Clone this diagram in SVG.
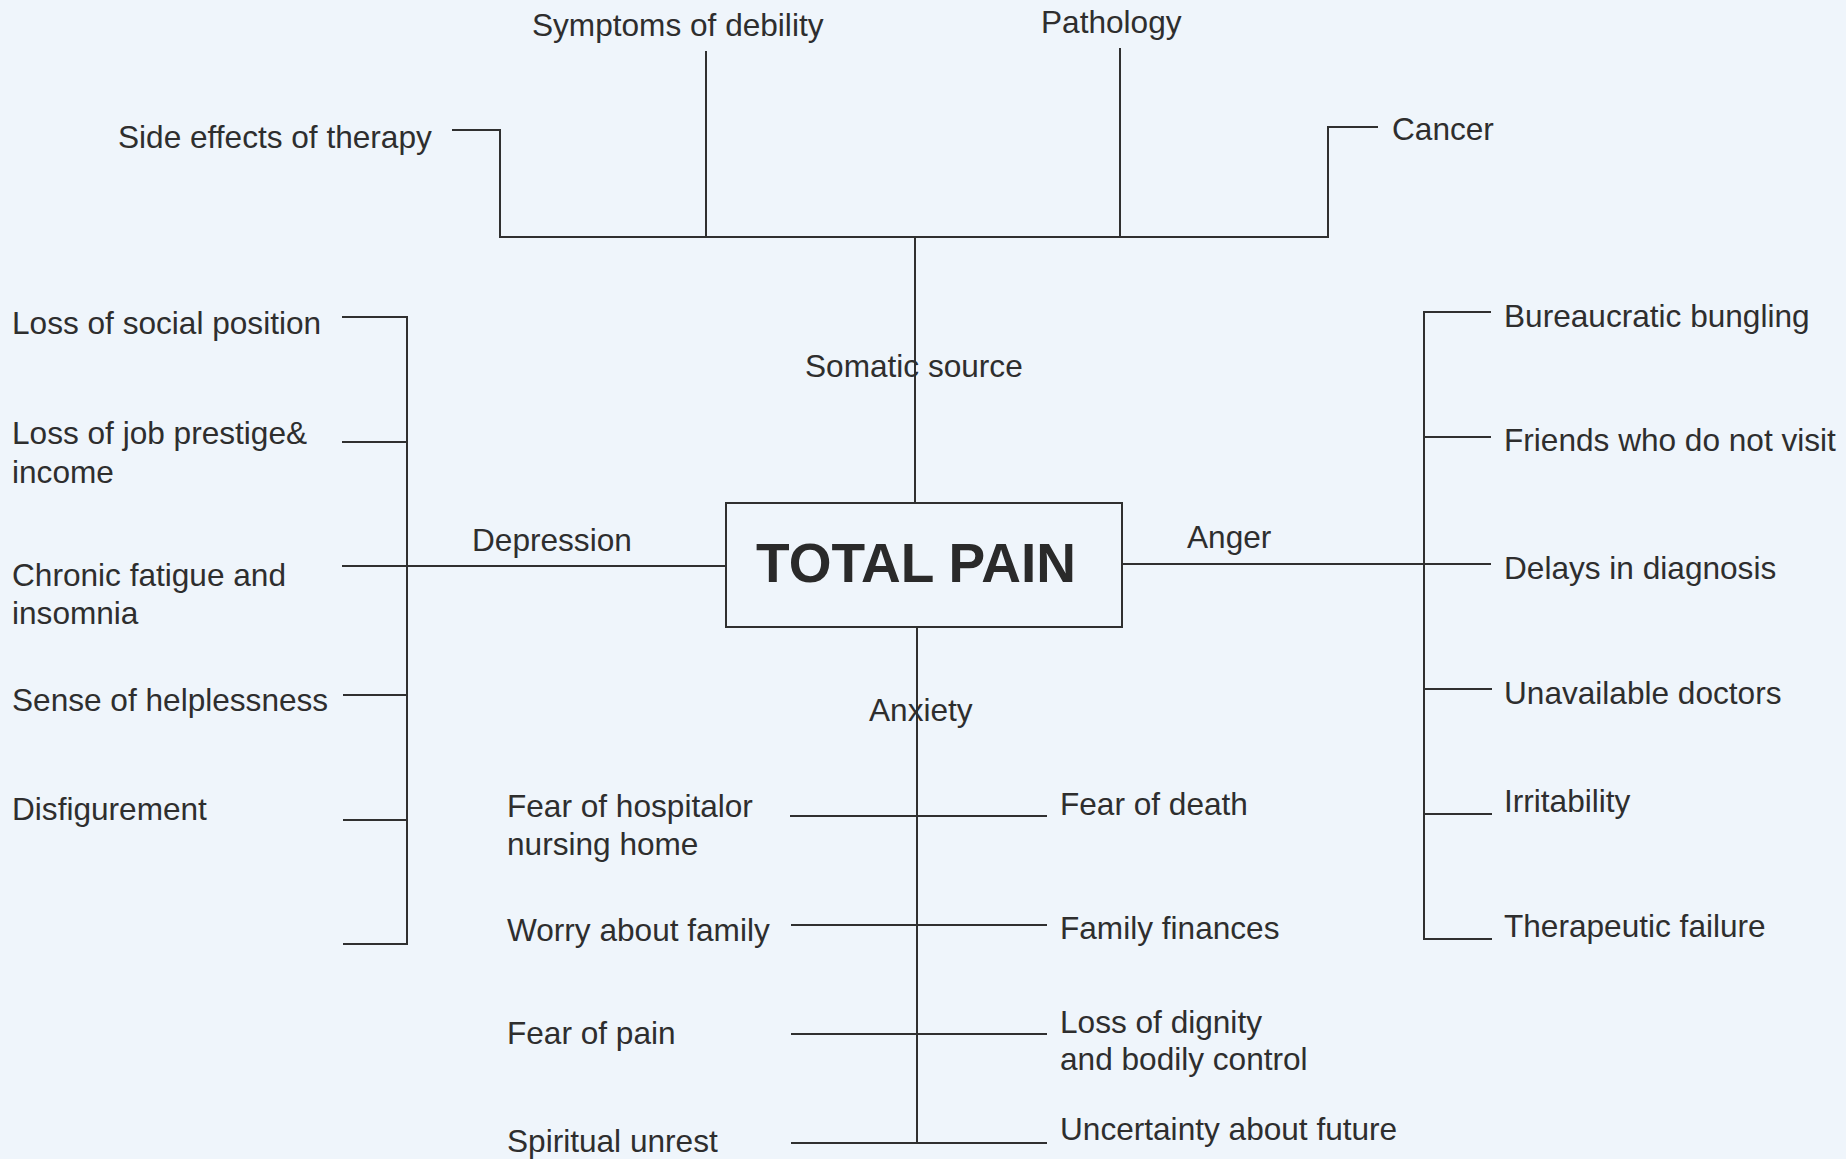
<svg xmlns="http://www.w3.org/2000/svg" width="1846" height="1159" viewBox="0 0 1846 1159">
<style>
.bg{fill:#eff5fb}
.ln{stroke:#303030;stroke-width:2;fill:none;stroke-linecap:square}
.t{font-family:"Liberation Sans",Arial,sans-serif;font-size:31.6px;fill:#2e2e2e}
.big{font-family:"Liberation Sans",Arial,sans-serif;font-size:55px;font-weight:bold;fill:#2a2a2a}
</style>
<rect class="bg" x="0" y="0" width="1846" height="1159"/>
<g id="connectors">
  <!-- top bracket -->
  <path class="ln" d="M453 130 H500 V237 H1328 V127 H1377"/>
  <path class="ln" d="M706 52 V237"/>
  <path class="ln" d="M1120 49 V237"/>
  <path class="ln" d="M915 237 V503"/>
  <!-- left bracket -->
  <path class="ln" d="M343 317 H407 V944 H344"/>
  <path class="ln" d="M343 442 H407"/>
  <path class="ln" d="M343 566 H726"/>
  <path class="ln" d="M344 695 H407"/>
  <path class="ln" d="M344 820 H407"/>
  <!-- right bracket -->
  <path class="ln" d="M1490 312 H1424 V939 H1491"/>
  <path class="ln" d="M1424 437 H1490"/>
  <path class="ln" d="M1122 564 H1490"/>
  <path class="ln" d="M1424 689 H1491"/>
  <path class="ln" d="M1424 814 H1491"/>
  <!-- bottom trunk -->
  <path class="ln" d="M917 627 V1143"/>
  <path class="ln" d="M791 816 H1046"/>
  <path class="ln" d="M792 925 H1046"/>
  <path class="ln" d="M792 1034 H1046"/>
  <path class="ln" d="M792 1143 H1046"/>
</g>
<g id="total-pain">
  <rect class="ln" x="726" y="503" width="396" height="124"/>
  <text class="big" x="916" y="582" text-anchor="middle">TOTAL PAIN</text>
</g>
<g id="somatic"><text class="t" x="805" y="377">Somatic source</text></g>
<g id="depression"><text class="t" x="472" y="551">Depression</text></g>
<g id="anger"><text class="t" x="1187" y="548">Anger</text></g>
<g id="anxiety"><text class="t" x="869" y="721">Anxiety</text></g>
<g id="side-effects"><text class="t" x="118" y="148">Side effects of therapy</text></g>
<g id="symptoms"><text class="t" x="532" y="36">Symptoms of debility</text></g>
<g id="pathology"><text class="t" x="1041" y="33">Pathology</text></g>
<g id="cancer"><text class="t" x="1392" y="140">Cancer</text></g>
<g id="loss-social"><text class="t" x="12" y="334">Loss of social position</text></g>
<g id="loss-job"><text class="t" x="12" y="444">Loss of job prestige&amp;</text><text class="t" x="12" y="483">income</text></g>
<g id="chronic-fatigue"><text class="t" x="12" y="586">Chronic fatigue and</text><text class="t" x="12" y="624">insomnia</text></g>
<g id="helplessness"><text class="t" x="12" y="711">Sense of helplessness</text></g>
<g id="disfigurement"><text class="t" x="12" y="820">Disfigurement</text></g>
<g id="bureaucratic"><text class="t" x="1504" y="327">Bureaucratic bungling</text></g>
<g id="friends"><text class="t" x="1504" y="451">Friends who do not visit</text></g>
<g id="delays"><text class="t" x="1504" y="579">Delays in diagnosis</text></g>
<g id="unavailable"><text class="t" x="1504" y="704">Unavailable doctors</text></g>
<g id="irritability"><text class="t" x="1504" y="812">Irritability</text></g>
<g id="therapeutic"><text class="t" x="1504" y="937">Therapeutic failure</text></g>
<g id="fear-hospital"><text class="t" x="507" y="817">Fear of hospitalor</text><text class="t" x="507" y="855">nursing home</text></g>
<g id="worry-family"><text class="t" x="507" y="941">Worry about family</text></g>
<g id="fear-pain"><text class="t" x="507" y="1044">Fear of pain</text></g>
<g id="spiritual"><text class="t" x="507" y="1152">Spiritual unrest</text></g>
<g id="fear-death"><text class="t" x="1060" y="815">Fear of death</text></g>
<g id="family-finances"><text class="t" x="1060" y="939">Family finances</text></g>
<g id="dignity"><text class="t" x="1060" y="1033">Loss of dignity</text><text class="t" x="1060" y="1070">and bodily control</text></g>
<g id="uncertainty"><text class="t" x="1060" y="1140">Uncertainty about future</text></g>
</svg>
